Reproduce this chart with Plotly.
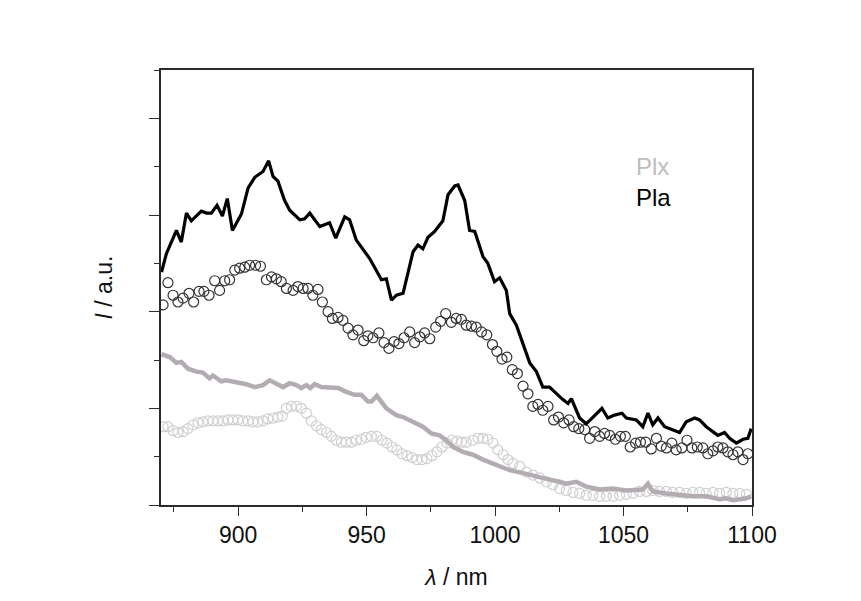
import plotly.graph_objects as go

# Pla solid line
pla_line_x = [870.2, 872.1, 876.0, 877.9, 879.9, 881.8, 885.7, 887.7, 889.6, 891.8, 893.9, 895.8, 897.8, 901.3, 903.9, 906.5, 909.7, 911.9, 913.6, 915.5, 918.1, 920.1, 924.0, 925.9, 927.9, 931.8, 935.6, 938.0, 941.5, 943.4, 946.0, 951.2, 955.8, 957.7, 959.7, 961.6, 964.2, 965.5, 968.1, 970.0, 971.9, 973.9, 976.5, 979.7, 981.7, 984.3, 985.6, 988.2, 990.1, 992.1, 995.3, 997.2, 999.8, 1001.8, 1004.4, 1005.7, 1008.3, 1013.5, 1016.1, 1018.6, 1021.2, 1026.4, 1028.4, 1029.7, 1032.9, 1035.5, 1038.8, 1041.6, 1043.9, 1046.5, 1049.4, 1051.1, 1055.0, 1057.5, 1059.5, 1061.4, 1063.4, 1066.0, 1071.8, 1074.4, 1077.7, 1079.6, 1082.2, 1086.7, 1089.3, 1091.3, 1093.9, 1096.5, 1098.4, 1099.7]
pla_line_y = [2.41, 2.60, 2.84, 2.72, 3.02, 2.94, 3.04, 3.02, 3.02, 3.10, 2.99, 3.17, 2.84, 3.01, 3.28, 3.39, 3.45, 3.56, 3.40, 3.35, 3.15, 3.05, 2.95, 2.96, 3.02, 2.88, 2.92, 2.76, 2.98, 2.95, 2.74, 2.55, 2.33, 2.34, 2.12, 2.17, 2.19, 2.33, 2.62, 2.69, 2.65, 2.77, 2.83, 2.94, 3.21, 3.30, 3.31, 3.15, 2.84, 2.83, 2.57, 2.50, 2.31, 2.35, 2.22, 1.98, 1.86, 1.47, 1.38, 1.22, 1.22, 1.09, 1.05, 1.10, 0.90, 0.84, 0.93, 1.00, 0.90, 0.93, 0.95, 0.90, 0.88, 0.81, 0.95, 0.83, 0.90, 0.81, 0.75, 0.86, 0.90, 0.88, 0.81, 0.72, 0.75, 0.69, 0.64, 0.68, 0.69, 0.79]

# Pla circles
pla_pts_x = [870.8, 872.7, 874.7, 876.6, 878.6, 880.9, 882.7, 884.8, 886.7, 888.7, 890.9, 892.8, 894.8, 896.7, 898.7, 900.6, 902.6, 904.5, 906.8, 908.7, 911.0, 913.0, 914.9, 916.8, 918.8, 921.4, 923.3, 925.3, 927.2, 929.1, 931.1, 932.8, 935.0, 936.7, 938.9, 940.8, 942.8, 944.7, 946.7, 948.9, 950.5, 952.5, 954.8, 956.8, 958.7, 960.7, 962.6, 964.6, 966.8, 968.7, 970.7, 972.6, 974.6, 976.9, 978.8, 980.8, 983.0, 984.9, 986.9, 988.8, 990.8, 992.7, 994.7, 996.8, 999.0, 1000.7, 1002.7, 1004.6, 1006.7, 1008.7, 1010.9, 1012.8, 1014.7, 1016.7, 1018.6, 1020.6, 1022.8, 1024.7, 1026.7, 1028.8, 1030.6, 1032.6, 1034.9, 1036.8, 1038.8, 1040.7, 1042.6, 1044.6, 1046.8, 1048.8, 1050.7, 1052.6, 1054.7, 1056.6, 1058.6, 1060.8, 1062.8, 1064.7, 1066.7, 1068.8, 1070.5, 1072.7, 1074.7, 1076.6, 1078.7, 1080.9, 1082.8, 1084.8, 1086.7, 1088.7, 1090.6, 1092.6, 1094.5, 1096.5, 1098.4]
pla_pts_y = [2.07, 2.30, 2.17, 2.10, 2.14, 2.19, 2.10, 2.21, 2.21, 2.17, 2.32, 2.22, 2.32, 2.33, 2.43, 2.45, 2.46, 2.48, 2.48, 2.47, 2.33, 2.36, 2.34, 2.31, 2.24, 2.22, 2.26, 2.24, 2.24, 2.17, 2.23, 2.10, 2.00, 1.93, 1.94, 1.91, 1.83, 1.76, 1.81, 1.70, 1.75, 1.73, 1.78, 1.68, 1.62, 1.69, 1.67, 1.73, 1.79, 1.68, 1.74, 1.78, 1.72, 1.84, 1.90, 1.98, 1.89, 1.93, 1.92, 1.86, 1.85, 1.84, 1.79, 1.76, 1.66, 1.59, 1.51, 1.53, 1.40, 1.36, 1.23, 1.15, 1.02, 1.04, 0.98, 1.02, 0.88, 0.91, 0.85, 0.88, 0.81, 0.79, 0.78, 0.69, 0.76, 0.71, 0.74, 0.72, 0.68, 0.71, 0.71, 0.60, 0.64, 0.65, 0.65, 0.58, 0.69, 0.61, 0.59, 0.64, 0.57, 0.59, 0.67, 0.59, 0.60, 0.59, 0.53, 0.56, 0.60, 0.59, 0.55, 0.52, 0.55, 0.47, 0.53]

# Plx solid line
plx_line_x = [870.2, 873.4, 876.0, 877.9, 880.5, 883.8, 886.3, 888.9, 890.2, 893.5, 895.4, 898.0, 900.6, 903.2, 906.5, 909.7, 912.3, 914.9, 917.5, 920.1, 922.7, 924.6, 926.6, 928.1, 929.8, 932.4, 935.6, 938.9, 942.1, 945.4, 948.0, 950.5, 951.9, 954.0, 957.7, 961.6, 964.2, 966.8, 969.4, 971.9, 975.2, 978.4, 981.0, 983.6, 987.5, 991.4, 995.3, 1000.5, 1005.7, 1010.9, 1016.1, 1020.0, 1025.1, 1027.7, 1031.6, 1035.5, 1040.7, 1045.9, 1051.1, 1055.0, 1057.5, 1059.5, 1061.4, 1066.7, 1071.8, 1077.0, 1082.2, 1087.4, 1090.0, 1092.6, 1095.2, 1097.8, 1099.7]
plx_line_y = [1.56, 1.53, 1.47, 1.48, 1.41, 1.38, 1.37, 1.31, 1.34, 1.28, 1.29, 1.28, 1.26, 1.25, 1.22, 1.24, 1.29, 1.26, 1.22, 1.26, 1.24, 1.21, 1.24, 1.21, 1.25, 1.22, 1.22, 1.21, 1.17, 1.14, 1.14, 1.07, 1.07, 1.13, 1.00, 0.93, 0.91, 0.88, 0.85, 0.81, 0.74, 0.72, 0.67, 0.60, 0.55, 0.52, 0.47, 0.41, 0.36, 0.33, 0.29, 0.27, 0.24, 0.22, 0.24, 0.19, 0.16, 0.17, 0.15, 0.16, 0.16, 0.22, 0.14, 0.12, 0.10, 0.09, 0.09, 0.06, 0.07, 0.05, 0.06, 0.07, 0.09]

# Plx circles
plx_pts_x = [870.8, 872.7, 874.7, 876.6, 878.6, 880.5, 882.5, 884.4, 886.3, 888.3, 890.2, 892.2, 894.1, 896.1, 898.0, 900.0, 901.9, 903.9, 905.8, 907.7, 909.7, 911.6, 913.6, 915.5, 917.2, 918.8, 920.7, 922.7, 924.6, 926.6, 928.5, 930.5, 932.4, 934.4, 936.3, 938.2, 940.2, 942.1, 944.1, 946.0, 948.0, 949.9, 951.9, 954.0, 956.0, 957.9, 959.9, 961.8, 963.8, 965.7, 967.7, 969.6, 971.6, 973.5, 975.4, 977.4, 979.3, 981.3, 983.2, 985.2, 987.0, 988.8, 991.4, 993.4, 995.3, 997.2, 999.2, 1001.1, 1003.1, 1005.0, 1007.0, 1009.6, 1012.2, 1014.7, 1017.4, 1020.0, 1022.5, 1025.1, 1027.7, 1030.3, 1032.9, 1035.5, 1038.1, 1040.7, 1043.3, 1045.9, 1048.5, 1051.1, 1053.7, 1056.3, 1058.9, 1061.4, 1064.0, 1066.7, 1069.2, 1071.8, 1074.4, 1077.0, 1079.6, 1082.2, 1084.8, 1087.4, 1090.0, 1092.6, 1095.2, 1097.8]
plx_pts_y = [0.81, 0.81, 0.77, 0.75, 0.76, 0.79, 0.83, 0.85, 0.86, 0.87, 0.87, 0.87, 0.87, 0.88, 0.88, 0.88, 0.87, 0.87, 0.86, 0.86, 0.87, 0.89, 0.90, 0.91, 0.92, 1.00, 1.02, 1.02, 1.00, 0.95, 0.87, 0.82, 0.78, 0.75, 0.71, 0.67, 0.65, 0.65, 0.65, 0.67, 0.68, 0.70, 0.71, 0.71, 0.67, 0.64, 0.60, 0.57, 0.53, 0.51, 0.49, 0.47, 0.47, 0.48, 0.51, 0.55, 0.60, 0.64, 0.67, 0.66, 0.65, 0.65, 0.67, 0.69, 0.69, 0.68, 0.64, 0.57, 0.52, 0.47, 0.43, 0.40, 0.34, 0.31, 0.28, 0.24, 0.21, 0.17, 0.15, 0.13, 0.12, 0.10, 0.10, 0.09, 0.09, 0.09, 0.10, 0.11, 0.12, 0.14, 0.14, 0.15, 0.14, 0.14, 0.13, 0.13, 0.12, 0.13, 0.13, 0.12, 0.13, 0.12, 0.13, 0.12, 0.12, 0.11]

legend_labels = ["Plx", "Pla"]
x_range = [870, 1100]
y_range = [0, 4.5]

FONT = "Liberation Sans, Arial, sans-serif"
AX = "#2b2b2b"

fig = go.Figure()
fig.add_trace(go.Scatter(x=plx_pts_x, y=plx_pts_y, mode="markers",
                         marker=dict(symbol="circle-open", size=10, color="#cfcfcf",
                                     line=dict(width=1.2, color="#cfcfcf")),
                         showlegend=False))
fig.add_trace(go.Scatter(x=plx_line_x, y=plx_line_y, mode="lines",
                         line=dict(color="#b3adb3", width=4.5), showlegend=False))
fig.add_trace(go.Scatter(x=pla_pts_x, y=pla_pts_y, mode="markers",
                         marker=dict(symbol="circle-open", size=10, color="#333333",
                                     line=dict(width=1.2, color="#333333")),
                         showlegend=False))
fig.add_trace(go.Scatter(x=pla_line_x, y=pla_line_y, mode="lines",
                         line=dict(color="#000000", width=3.2), showlegend=False))

fig.add_annotation(x=0.80, y=0.779, xref="paper", yref="paper", text=legend_labels[0],
                   showarrow=False, xanchor="left", yanchor="middle",
                   font=dict(family=FONT, size=24, color="#bdbdbd"))
fig.add_annotation(x=0.80, y=0.706, xref="paper", yref="paper", text=legend_labels[1],
                   showarrow=False, xanchor="left", yanchor="middle",
                   font=dict(family=FONT, size=24, color="#000000"))

fig.update_layout(
    width=861, height=601,
    margin=dict(l=161, r=109, t=70, b=96),
    paper_bgcolor="white", plot_bgcolor="white",
    font=dict(family=FONT, size=23, color="#111111"),
    xaxis=dict(range=x_range, showgrid=False, zeroline=False,
               showline=True, linecolor=AX, linewidth=1.5, mirror=True,
               ticks="outside", tickcolor=AX, ticklen=9, tickwidth=1.3,
               tick0=900, dtick=50, tickfont=dict(size=23, family=FONT),
               minor=dict(ticks="outside", ticklen=5, tickcolor=AX, dtick=25, tick0=875, tickwidth=1.3),
               title=dict(text="<i>λ</i> / nm", font=dict(size=23, family=FONT), standoff=22)),
    yaxis=dict(range=y_range, showgrid=False, zeroline=False,
               showline=True, linecolor=AX, linewidth=1.5, mirror=True,
               ticks="outside", tickcolor=AX, ticklen=10, tickwidth=1.3,
               tick0=0, dtick=1, showticklabels=False,
               minor=dict(ticks="outside", ticklen=5, tickcolor=AX, dtick=0.5, tickwidth=1.3),
               title=dict(text="<i>I</i> / a.u.", font=dict(size=23, family=FONT), standoff=30)),
)

fig.write_html("out.html")
